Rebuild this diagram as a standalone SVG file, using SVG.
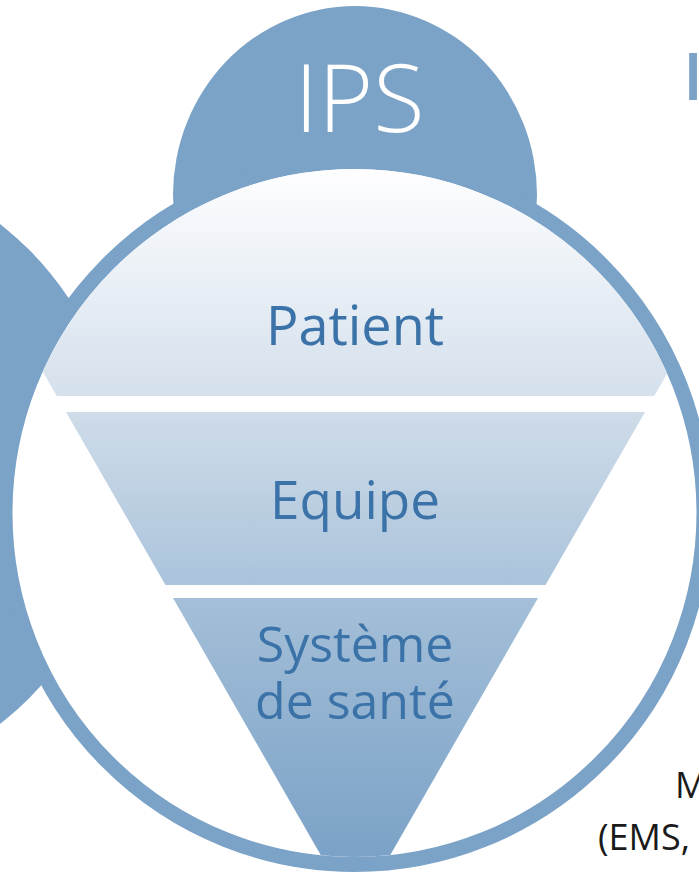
<svg xmlns="http://www.w3.org/2000/svg" width="699" height="876" viewBox="0 0 699 876">
  <style>
    .blue { fill: #7ba2c7; }
    .lbl { font-family: "Open Sans", "Noto Sans", "Liberation Sans", sans-serif; fill: #3b73a9; text-anchor: middle; }
    .side { font-family: "Open Sans", "Noto Sans", "Liberation Sans", sans-serif; fill: #1a1a1a; font-size: 36px; }
  </style>
  <defs>
    <linearGradient id="funnel" gradientUnits="userSpaceOnUse" x1="0" y1="169" x2="0" y2="857">
      <stop offset="0" stop-color="#fefeff"/>
      <stop offset="0.33" stop-color="#d4e0ec"/>
      <stop offset="0.353" stop-color="#cfdce9"/>
      <stop offset="0.605" stop-color="#aac3db"/>
      <stop offset="0.624" stop-color="#a4bfd8"/>
      <stop offset="1" stop-color="#7ba2c7"/>
    </linearGradient>
    <clipPath id="inner">
      <ellipse cx="354.5" cy="513" rx="342" ry="344"/>
    </clipPath>
  </defs>

  <g id="left-circle">
    <circle class="blue" cx="-195" cy="474" r="317"/>
  </g>

  <g id="ips">
    <ellipse class="blue" cx="355" cy="195" rx="182" ry="189"/>
    <text x="359.5" y="132" font-family="'Open Sans', 'Noto Sans', 'Liberation Sans', sans-serif" font-weight="300" font-size="94" fill="#ffffff" text-anchor="middle">IPS</text>
  </g>

  <g id="main-circle">
    <ellipse cx="354.5" cy="513" rx="349.5" ry="351.5" fill="#ffffff" stroke="#7ba2c7" stroke-width="15"/>
  </g>

  <g id="funnel-bands" clip-path="url(#inner)" fill="url(#funnel)">
    <g id="patient"><polygon points="-85,150 796,150 654.2,396 56.8,396"/></g>
    <g id="equipe"><polygon points="66,412 645,412 545.5,585 165.5,585"/></g>
    <g id="systeme"><polygon points="173,598 538,598 355.5,915.5"/></g>
  </g>

  <g id="labels">
    <text class="lbl" x="355" y="345" font-size="54">Patient</text>
    <text class="lbl" x="355" y="519" font-size="53">Equipe</text>
    <text class="lbl" x="355" y="662" font-size="50">Système</text>
    <text class="lbl" x="355" y="719" font-size="50">de santé</text>
  </g>

  <g id="right-texts">
    <text x="683" y="100" font-family="'Open Sans', 'Noto Sans', 'Liberation Sans', sans-serif" font-weight="600" font-size="66" fill="#7ba2c7">I</text>
    <text class="side" x="675" y="798">M</text>
    <text class="side" x="598" y="850">(EMS,</text>
  </g>
</svg>
